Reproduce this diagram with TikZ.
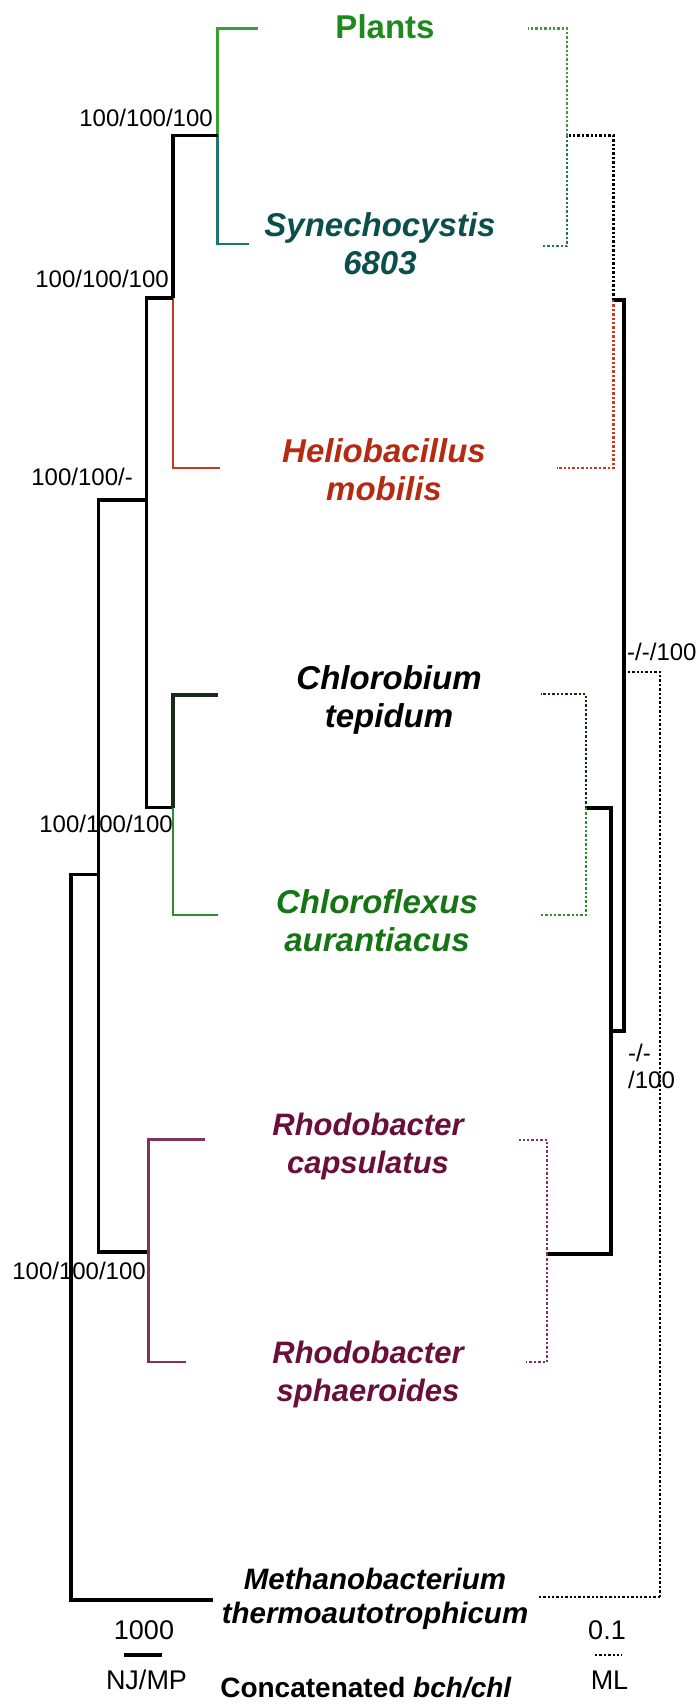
\documentclass[tikz,border=0pt]{standalone}
\usepackage{fontspec}
\setmainfont{Liberation Sans}
\definecolor{plantline}{HTML}{3A9E30}
\definecolor{planttext}{HTML}{1C8A1C}
\definecolor{synline}{HTML}{1C7672}
\definecolor{syntext}{HTML}{0B4F4C}
\definecolor{helioline}{HTML}{C83A20}
\definecolor{heliotext}{HTML}{B52A10}
\definecolor{cbline}{HTML}{1A2A1A}
\definecolor{cfline}{HTML}{2E8E2E}
\definecolor{cftext}{HTML}{157515}
\definecolor{rhodoline}{HTML}{82305C}
\definecolor{rhodotext}{HTML}{6A0F3A}
\tikzset{
	taxon/.style={font=\fontsize{33}{38}\selectfont\bfseries\itshape, align=center, inner sep=0pt},
	boot/.style={font=\fontsize{24}{27}\selectfont, inner sep=0pt},
	barlabel/.style={font=\fontsize{27}{30}\selectfont, inner sep=0pt},
	nj/.style={line width=3.2pt},
	ml/.style={line width=2.4pt, dotted},
}
\begin{document}
\begin{tikzpicture}[x=1pt,y=-1pt]
	\useasboundingbox (0,0) rectangle (696,1704);
	% NJ/MP tree
	\coordinate (tPl) at (257.5,28.6);
	\coordinate (tSy) at (248.6,244);
	\coordinate (tHe) at (220,468);
	\coordinate (tCb) at (217.5,695);
	\coordinate (tCf) at (217.5,915);
	\coordinate (tRc) at (205,1139.7);
	\coordinate (tRs) at (185.5,1362);
	\coordinate (tMe) at (213,1600);
	\coordinate (n1) at (217.5,135.7);
	\coordinate (n2) at (173,298);
	\coordinate (n3) at (146.5,500);
	\coordinate (n4) at (173,807.5);
	\coordinate (n5) at (98.5,874.6);
	\coordinate (n6) at (148.7,1252);
	\coordinate (root) at (71,1240);
		\draw[nj,plantline,line width=2.8pt] (n1) |- (tPl);
		\draw[nj,synline,line width=2.8pt] (n1) |- (tSy);
		\draw[nj] (n2) |- (n1);
		\draw[nj,helioline,line width=2.8pt] (n2) |- (tHe);
		\draw[nj] (n3) |- (n2);
		\draw[nj] (n3) |- (n4);
		\draw[nj,cbline] (n4) |- (tCb);
		\draw[nj,cfline,line width=2.8pt] (n4) |- (tCf);
		\draw[nj] (n5) |- (n3);
		\draw[nj] (n5) |- (n6);
		\draw[nj,rhodoline,line width=2.8pt] (n6) |- (tRc);
		\draw[nj,rhodoline,line width=2.8pt] (n6) |- (tRs);
		\draw[nj] (root) |- (n5);
		\draw[nj] (root) |- (tMe);
	% ML tree
	\coordinate (uPl) at (528,28.6);
	\coordinate (uSy) at (541.5,246);
	\coordinate (uHe) at (557,468);
	\coordinate (uCb) at (540.7,694);
	\coordinate (uCf) at (540.7,915);
	\coordinate (uRc) at (518.5,1139.7);
	\coordinate (uRs) at (526,1362);
	\coordinate (uMe) at (538,1597);
	\coordinate (m1) at (567,135.7);
	\coordinate (m2) at (613.5,300);
	\coordinate (m3) at (624,672);
	\coordinate (m4) at (611,1031);
	\coordinate (m5) at (660,1597);
	\coordinate (m6) at (585.7,808);
	\coordinate (m7) at (547,1254);
		\draw[ml,plantline] (m1) |- (uPl);
		\draw[ml,synline] (m1) |- (uSy);
		\draw[ml] (m2) |- (m1);
		\draw[ml,helioline] (m2) |- (uHe);
		\draw[nj] (m3) |- (m2);
		\draw[nj] (m3) |- (m4);
		\draw[nj] (m4) |- (m6);
		\draw[nj] (m4) |- (m7);
		\draw[ml,cbline] (m6) |- (uCb);
		\draw[ml,cfline] (m6) |- (uCf);
		\draw[ml,rhodoline] (m7) |- (uRc);
		\draw[ml,rhodoline] (m7) |- (uRs);
		\draw[ml] (m5) |- (m3);
		\draw[ml] (m5) |- (uMe);
	% taxa
	\node[taxon,font=\fontsize{33}{38}\selectfont\bfseries,text=planttext] (Pl) at (385,27) {Plants};
	\node[taxon,text=syntext] (Sy) at (380,244) {Synechocystis\\6803};
	\node[taxon,text=heliotext] (He) at (384,470) {Heliobacillus\\mobilis};
	\node[taxon] (Cb) at (389,700) {Chlorobium\\tepidum};
	\node[taxon,text=cftext] (Cf) at (377,921) {Chloroflexus\\aurantiacus};
	\node[taxon,font=\fontsize{31}{38}\selectfont\bfseries\itshape,text=rhodotext] (Rc) at (368,1146) {Rhodobacter\\capsulatus};
	\node[taxon,font=\fontsize{31}{38}\selectfont\bfseries\itshape,text=rhodotext] (Rs) at (368,1374) {Rhodobacter\\sphaeroides};
	\node[taxon,font=\fontsize{29.5}{34.5}\selectfont\bfseries\itshape] (Me) at (375,1599) {Methanobacterium\\thermoautotrophicum};
	% support values
	\node[boot,anchor=east] (b1) at (213,118) {100/100/100};
	\node[boot,anchor=east] (b2) at (169,279) {100/100/100};
	\node[boot,anchor=east] (b3) at (133,477) {100/100/-};
	\node[boot,anchor=east] (b4) at (173,823.5) {100/100/100};
	\node[boot,anchor=east] (b6) at (146,1271) {100/100/100};
	\node[boot,anchor=west] (c3) at (627,652) {-/-/100};
	\node[boot,anchor=west,align=left] (c4) at (628,1066) {-/-\\/100};
	% scale bars
	\coordinate (s1a) at (124,1655);
	\coordinate (s1b) at (162,1655);
	\coordinate (s2a) at (595,1655);
	\coordinate (s2b) at (621.5,1655);
		\draw[nj] (s1a) -- (s1b);
		\draw[ml] (s2a) -- (s2b);
	\node[barlabel] (s1) at (144,1630) {1000};
	\node[barlabel] (s1l) at (146.5,1680) {NJ/MP};
	\node[barlabel] (s2) at (607,1630) {0.1};
	\node[barlabel] (s2l) at (609.5,1680) {ML};
	\node[font=\fontsize{28}{32}\selectfont\bfseries,inner sep=0pt] (cap) at (366,1688) {Concatenated \textit{bch/chl}};
\end{tikzpicture}
\end{document}
